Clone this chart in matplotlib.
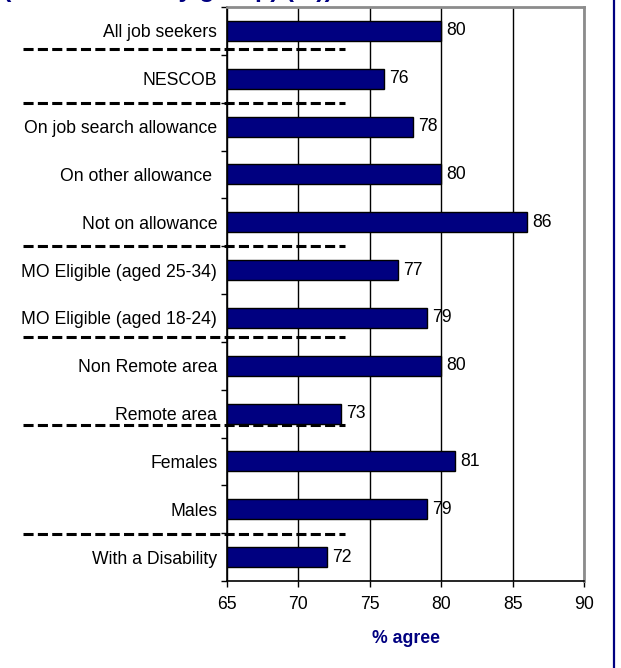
import matplotlib
matplotlib.use("Agg")
import matplotlib.pyplot as plt
from matplotlib.lines import Line2D
import numpy as np

plt.rcParams['font.family'] = ['Liberation Sans', 'DejaVu Sans']

groups = ["All job seekers", "NESCOB", "On job search allowance",
          "On other allowance ", "Not on allowance", "MO Eligible (aged 25-34)",
          "MO Eligible (aged 18-24)", "Non Remote area", "Remote area",
          "Females", "Males", "With a Disability"]
agree = [80, 76, 78, 80, 86, 77, 79, 80, 73, 81, 79, 72]
xticks = [65, 70, 75, 80, 85, 90]

navy = "#000080"
fs = 12.7

fig = plt.figure(figsize=(6.21, 6.68), dpi=100)
ax = fig.add_axes([227 / 621, 1 - 581 / 668, 357 / 621, 574 / 668])

y = np.arange(len(groups))
ax.barh(y, [v - 65 for v in agree], left=65, height=0.42,
        color=navy, edgecolor="black", linewidth=1, zorder=3)
for yi, v in zip(y, agree):
    ax.text(v + 0.35, yi, str(v), va="center", ha="left", fontsize=fs, zorder=4)

ax.set_xlim(65, 90)
ax.set_ylim(len(groups) - 0.5, -0.5)
ax.set_xticks(xticks)
ax.set_xticklabels([str(t) for t in xticks], fontsize=fs)
ax.set_yticks(y)
ax.set_yticklabels(groups, fontsize=fs)
ax.set_yticks(np.arange(len(groups) + 1) - 0.5, minor=True)
ax.tick_params(axis="y", which="major", length=0, pad=7)
ax.tick_params(axis="y", which="minor", length=4, direction="out", width=1)
ax.tick_params(axis="x", length=4, direction="out", width=1, pad=7)

ax.xaxis.grid(True, color="black", linewidth=1, zorder=0)
ax.set_axisbelow(True)
for side in ("left", "bottom"):
    ax.spines[side].set_color("black")
    ax.spines[side].set_linewidth(1.2)
for side in ("top", "right"):
    ax.spines[side].set_color("#8c8c8c")
    ax.spines[side].set_linewidth(2)

ax.set_xlabel("% agree", fontsize=fs, fontweight="bold", color=navy, labelpad=12)

# dashed separators between the group blocks
for sy in [0.38, 1.51, 4.50, 6.40, 8.24, 10.52]:
    fy = ax.transData.transform((65, sy))[1] / fig.bbox.height
    fig.add_artist(Line2D([23 / 621, 345 / 621], [fy, fy], color="black",
                          linewidth=2.2, dashes=(3.3, 1.4), zorder=5))

# frame edge on the right
fig.add_artist(Line2D([614 / 621, 614 / 621], [0, 1], color=navy, linewidth=1.6))

# title line, mostly above the top edge
fig.text(0.005, 1 + 3 / 668, "(Job seekers by group) (%))", fontsize=18,
         fontweight="bold", color=navy, ha="left", va="baseline")

fig.savefig("out.png", dpi=100)
